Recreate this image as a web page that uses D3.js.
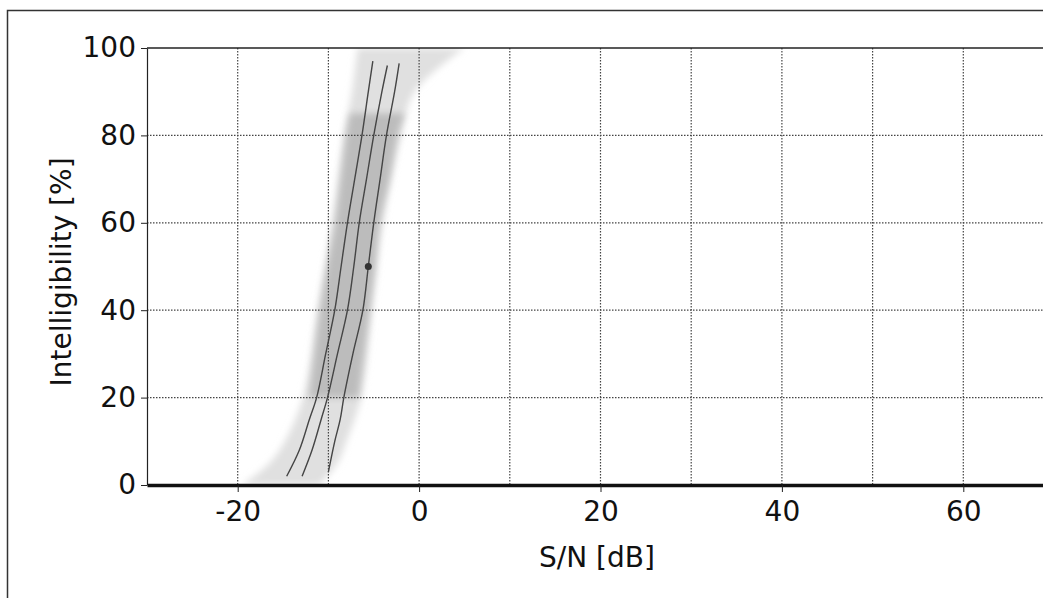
<!DOCTYPE html>
<html>
<head>
<meta charset="utf-8">
<script src="https://cdn.jsdelivr.net/npm/d3@7"></script>
<style>
  body { margin: 0; background: #fff; }
  svg { display: block; }
  text { font-family: "DejaVu Sans", sans-serif; fill: #111; }
</style>
</head>
<body>
<div id="chart"></div>
<script>
// axis ticks
var xTicks = [-20, 0, 20, 40, 60];
var xGrid = [-20, -10, 0, 10, 20, 30, 40, 50, 60];
var yTicks = [0, 20, 40, 60, 80, 100];
var yGrid = [20, 40, 60, 80];

// light outer spread of the measurements
var haloY  = [0,     5,    10,    20,    40,    60,   80,   90,   100];
var haloLo = [-19.5, -16.5, -14.8, -12.8, -11.2, -9.6, -8.3, -7.4, -6.8];
var haloHi = [-11,   -9,   -8,    -6.4,  -5.2,  -4.0, -2.0, -0.5, 5];

// darker core band
var coreY  = [20,    30,    40,    50,    60,   70,   80,   85];
var coreLo = [-12.1, -11.5, -10.9, -10.1, -9.2, -8.6, -8.0, -7.6];
var coreHi = [-6.7,  -6.1,  -5.5,  -4.9,  -4.4, -3.3, -2.4, -1.6];

// three fitted curves (S/N, intelligibility)
var curveLeft  = [[-14.6, 2], [-13.2, 8], [-12.1, 15], [-11.3, 20], [-10.3, 30], [-9.3, 40], [-8.6, 50], [-7.9, 60], [-7.1, 70], [-6.3, 80], [-5.6, 90], [-5.1, 97]];
var curveMid   = [[-12.9, 2], [-11.8, 8], [-10.8, 15], [-10.1, 20], [-9.0, 30], [-7.9, 40], [-7.2, 50], [-6.6, 60], [-5.8, 70], [-5.0, 80], [-4.1, 90], [-3.5, 96]];
var curveRight = [[-10.0, 3], [-9.3, 10], [-8.7, 15], [-8.3, 20], [-7.3, 30], [-6.2, 40], [-5.6, 50], [-5.0, 60], [-4.3, 70], [-3.6, 80], [-2.7, 90], [-2.2, 96.5]];

// measured point
var pointX = [-5.6];
var pointY = [50];

var W = 1043, H = 598;
var margin = {top: 48, left: 147};
var width = 907, height = 437;

var svg = d3.select("#chart").append("svg")
  .attr("width", W).attr("height", H);

var defs = svg.append("defs");
defs.append("filter").attr("id", "soft")
  .attr("x", "-20%").attr("y", "-20%").attr("width", "140%").attr("height", "140%")
  .append("feGaussianBlur").attr("stdDeviation", 3.5);
defs.append("filter").attr("id", "smudge")
  .append("feGaussianBlur").attr("stdDeviation", 0.6);
defs.append("clipPath").attr("id", "plotclip")
  .append("rect").attr("x", 0).attr("y", 0).attr("width", width).attr("height", height);

// outer frame
svg.append("rect")
  .attr("x", 7.5).attr("y", 10.5).attr("width", 1050).attr("height", 620)
  .attr("fill", "none").attr("stroke", "#333").attr("stroke-width", 1.5);

var g = svg.append("g").attr("transform", "translate(" + margin.left + "," + margin.top + ")");

var x = d3.scaleLinear().domain([-30, 70]).range([0, width]);
var y = d3.scaleLinear().domain([0, 100]).range([height, 0]);

var plot = g.append("g").attr("clip-path", "url(#plotclip)");

function band(ys, lo, hi) {
  return ys.map(function(v, i) { return {y: v, lo: lo[i], hi: hi[i]}; });
}
var area = d3.area()
  .y(function(d) { return y(d.y); })
  .x0(function(d) { return x(d.lo); })
  .x1(function(d) { return x(d.hi); })
  .curve(d3.curveCatmullRom);

plot.append("path")
  .datum(band(haloY, haloLo, haloHi))
  .attr("d", area)
  .attr("fill", "#e0e0e0")
  .attr("filter", "url(#soft)");

plot.append("path")
  .datum(band(coreY, coreLo, coreHi))
  .attr("d", area)
  .attr("fill", "#bcbcbc")
  .attr("filter", "url(#soft)");

// grid
g.append("g").selectAll("line").data(xGrid).enter().append("line")
  .attr("x1", function(d) { return x(d); }).attr("x2", function(d) { return x(d); })
  .attr("y1", 0).attr("y2", height)
  .attr("stroke", "#444").attr("stroke-width", 1.2).attr("stroke-dasharray", "1.5,1.5");

g.append("g").selectAll("line").data(yGrid).enter().append("line")
  .attr("x1", 0).attr("x2", width)
  .attr("y1", function(d) { return y(d); }).attr("y2", function(d) { return y(d); })
  .attr("stroke", "#444").attr("stroke-width", 1.2).attr("stroke-dasharray", "1.5,1.5");

// curves
var line = d3.line()
  .x(function(d) { return x(d[0]); })
  .y(function(d) { return y(d[1]); })
  .curve(d3.curveCatmullRom);

[curveLeft, curveMid, curveRight].forEach(function(c) {
  plot.append("path").datum(c).attr("d", line)
    .attr("fill", "none").attr("stroke", "#444").attr("stroke-width", 1.4)
    .attr("filter", "url(#smudge)");
});

plot.selectAll("circle.pt").data(pointX).enter().append("circle")
  .attr("class", "pt")
  .attr("cx", function(d) { return x(d); })
  .attr("cy", function(d, i) { return y(pointY[i]); })
  .attr("r", 3.5).attr("fill", "#333");

// top border of the plot
g.append("line").attr("x1", 0).attr("x2", width).attr("y1", y(100)).attr("y2", y(100))
  .attr("stroke", "#222").attr("stroke-width", 1.5);

// y axis
var yAxis = g.append("g")
  .call(d3.axisLeft(y).tickValues(yTicks).tickSize(6).tickSizeOuter(0).tickPadding(5));
yAxis.select(".domain").attr("stroke", "#222").attr("stroke-width", 1.2);
yAxis.selectAll(".tick line").attr("stroke", "#222");
yAxis.selectAll("text").attr("font-size", 28).attr("fill", "#111")
  .attr("font-family", "DejaVu Sans Condensed, DejaVu Sans, sans-serif");

// x axis
var xAxis = g.append("g")
  .attr("transform", "translate(0," + height + ")")
  .call(d3.axisBottom(x).tickValues(xTicks).tickSize(7).tickSizeOuter(0).tickPadding(9).tickFormat(d3.format("d")));
xAxis.select(".domain").attr("stroke", "#111").attr("stroke-width", 3.5);
xAxis.selectAll(".tick line").attr("stroke", "#222");
xAxis.selectAll("text").attr("font-size", 28).attr("fill", "#111")
  .attr("font-family", "DejaVu Sans Condensed, DejaVu Sans, sans-serif")
  .text(function(d) { return d < 0 ? "-" + Math.abs(d) : d; });

// axis titles
svg.append("text")
  .attr("x", 597).attr("y", 567)
  .attr("text-anchor", "middle").attr("font-size", 28)
  .text("S/N [dB]");

svg.append("text")
  .attr("transform", "translate(71,272) rotate(-90)")
  .attr("text-anchor", "middle").attr("font-size", 28)
  .text("Intelligibility [%]");
</script>
</body>
</html>
